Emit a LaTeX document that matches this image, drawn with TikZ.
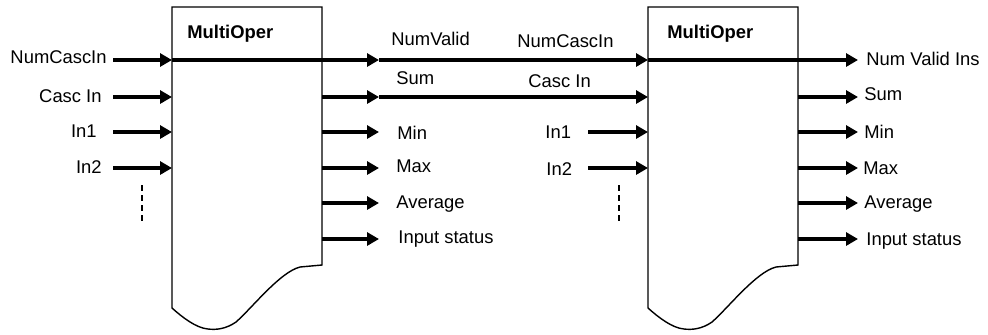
\documentclass[tikz,border=0pt]{standalone}
\usepackage{fontspec}
\setmainfont{Liberation Sans}
\usetikzlibrary{arrows.meta}

\begin{document}
\begin{tikzpicture}[
  x=0.5pt, y=-0.5pt,
  font=\fontsize{9.2}{11}\selectfont,
  >={Triangle[length=6pt,width=6.5pt]},
  blk/.style={draw=black, line width=0.7pt, fill=white},
  sig/.style={->, line width=1.75pt},
  lbl/.style={inner sep=0pt, anchor=base west},
  lblr/.style={inner sep=0pt, anchor=base east},
  ttl/.style={inner sep=0pt, anchor=base west, font=\fontsize{9.2}{11}\selectfont\bfseries},
  more/.style={line width=1.1pt, dash pattern=on 3pt off 2pt}
]
\useasboundingbox (0,0) rectangle (988,334);

% the two blocks, torn at the bottom
\draw[blk] (172,7) -- (322,7) -- (322,265) -- (300,267)
  .. controls (280,272) and (252,308) .. (236,322)
  .. controls (226,329) and (216,330) .. (208,329)
  .. controls (196,328) and (182,317) .. (172,308) -- cycle;
\draw[blk] (648,7) -- (798,7) -- (798,265) -- (776,267)
  .. controls (756,272) and (728,308) .. (712,322)
  .. controls (702,329) and (692,330) .. (684,329)
  .. controls (672,328) and (658,317) .. (648,308) -- cycle;

\node[ttl] (op1) at (187,38) {MultiOper};
\node[ttl] (op2) at (667,38) {MultiOper};

% ports
\coordinate (s1) at (113,60);  \coordinate (b1w1) at (172,60);
\coordinate (s2) at (113,97);  \coordinate (b1w2) at (172,97);
\coordinate (s3) at (113,132); \coordinate (b1w3) at (172,132);
\coordinate (s4) at (113,168); \coordinate (b1w4) at (172,168);

\coordinate (b1e2) at (322,97);  \coordinate (t1) at (379,60);
\coordinate (b1e3) at (322,132); \coordinate (t2) at (379,97);
\coordinate (b1e4) at (322,168); \coordinate (t3) at (379,132);
\coordinate (b1e5) at (322,203); \coordinate (t4) at (379,168);
\coordinate (b1e6) at (322,239); \coordinate (t5) at (379,203);
                                 \coordinate (t6) at (379,239);

\coordinate (b2w1) at (648,60);
\coordinate (b2w2) at (648,97);
\coordinate (u3) at (588,132); \coordinate (b2w3) at (648,132);
\coordinate (u4) at (588,168); \coordinate (b2w4) at (648,168);

\coordinate (b2e2) at (798,97);  \coordinate (o1) at (858,60);
\coordinate (b2e3) at (798,132); \coordinate (o2) at (858,97);
\coordinate (b2e4) at (798,168); \coordinate (o3) at (858,132);
\coordinate (b2e5) at (798,203); \coordinate (o4) at (858,168);
\coordinate (b2e6) at (798,239); \coordinate (o5) at (858,203);
                                 \coordinate (o6) at (858,239);

% inputs of the first block
\node[lblr] (nci1) at (107,63) {NumCascIn};
\node[lblr] (ci1)  at (102,102) {Casc In};
\node[lblr] (in11) at (97,137) {In1};
\node[lblr] (in21) at (102,173) {In2};
\draw[sig] (s1) -- (b1w1);
\draw[sig] (s2) -- (b1w2);
\draw[sig] (s3) -- (b1w3);
\draw[sig] (s4) -- (b1w4);
\draw[more] (142,185) -- (142,222);

% outputs of the first block, cascaded into the second
\draw[sig] (b1w1) -- (t1);
\draw[sig] (t1) -- (b2w1);
\draw[sig] (b1e2) -- (t2);
\draw[sig] (t2) -- (b2w2);
\draw[sig] (b1e3) -- (t3);
\draw[sig] (b1e4) -- (t4);
\draw[sig] (b1e5) -- (t5);
\draw[sig] (b1e6) -- (t6);

\node[lbl] (nv1)  at (391,45)  {NumValid};
\node[lbl] (sum1) at (396,84)  {Sum};
\node[lbl] (min1) at (397,139) {Min};
\node[lbl] (max1) at (396,172) {Max};
\node[lbl] (avg1) at (396,208) {Average};
\node[lbl] (ist1) at (398,243) {Input status};

% inputs of the second block
\node[lbl] (nci2) at (517,47)  {NumCascIn};
\node[lbl] (ci2)  at (528,87)  {Casc In};
\node[lbl] (in12) at (545,138) {In1};
\node[lbl] (in22) at (546,175) {In2};
\draw[sig] (u3) -- (b2w3);
\draw[sig] (u4) -- (b2w4);
\draw[more] (619,185) -- (619,222);

% outputs of the second block
\draw[sig] (b2w1) -- (o1);
\draw[sig] (b2e2) -- (o2);
\draw[sig] (b2e3) -- (o3);
\draw[sig] (b2e4) -- (o4);
\draw[sig] (b2e5) -- (o5);
\draw[sig] (b2e6) -- (o6);

\node[lbl] (nvi2) at (866,65)  {Num Valid Ins};
\node[lbl] (sum2) at (864,100) {Sum};
\node[lbl] (min2) at (864,138) {Min};
\node[lbl] (max2) at (863,174) {Max};
\node[lbl] (avg2) at (864,208) {Average};
\node[lbl] (ist2) at (866,245) {Input status};

\end{tikzpicture}
\end{document}
